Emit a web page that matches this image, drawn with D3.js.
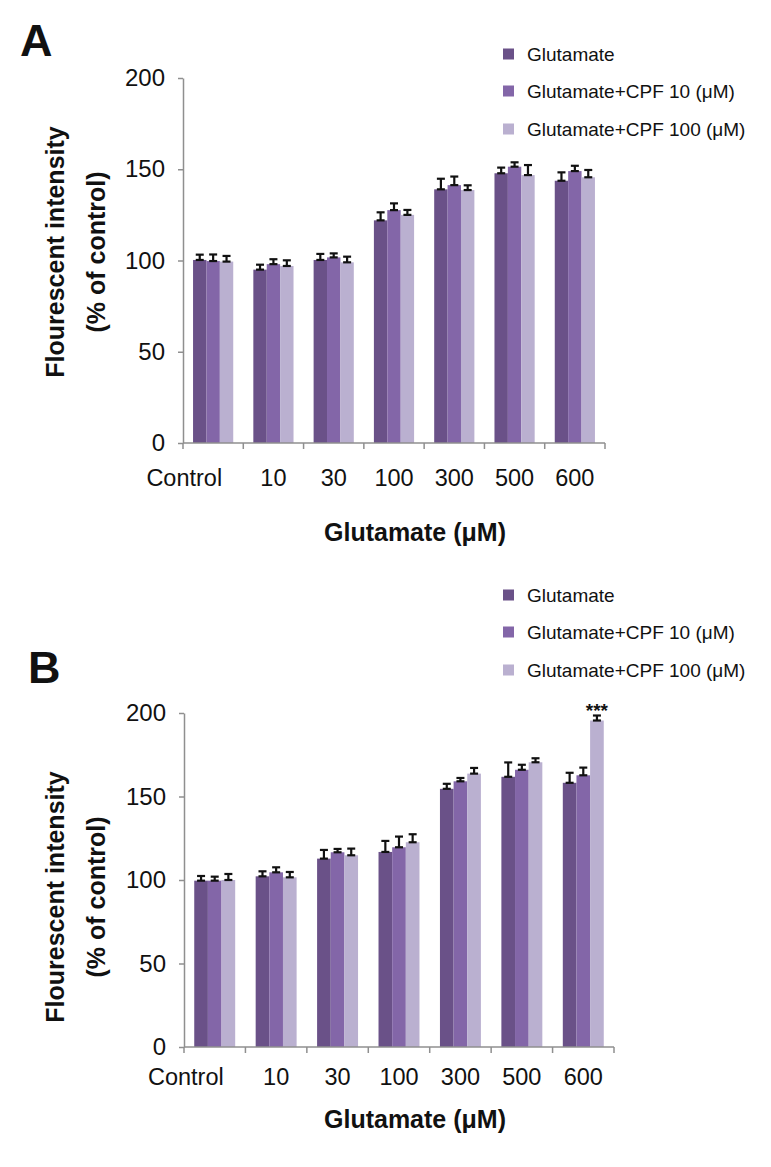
<!DOCTYPE html>
<html>
<head>
<meta charset="utf-8">
<script src="https://cdn.jsdelivr.net/npm/d3@7"></script>
<style>
  html, body { margin: 0; padding: 0; background: #fff; }
  svg { display: block; font-family: Arial, "Liberation Sans", Helvetica, sans-serif; }
</style>
</head>
<body>
<svg id="chart" width="771" height="1167"></svg>
<script>
// ---------- DATA ----------
const categories = ["Control", "10", "30", "100", "300", "500", "600"];
const seriesNames = ["Glutamate", "Glutamate+CPF 10 (μM)", "Glutamate+CPF 100 (μM)"];
const yTickValues = [0, 50, 100, 150, 200];

// Panel A: means and error-bar lengths (% of control)
const aGlutamate    = [100.3, 95.0, 100.3, 122.0, 139.0, 147.8, 143.7];
const aCpf10        = [99.7, 98.0, 101.7, 127.6, 141.3, 151.4, 149.0];
const aCpf100       = [99.4, 97.0, 99.0, 125.0, 138.6, 146.8, 145.6];
const aGlutamateErr = [2.9, 2.7, 3.3, 4.4, 5.8, 3.1, 4.6];
const aCpf10Err     = [3.6, 2.7, 2.2, 3.7, 4.7, 2.4, 2.9];
const aCpf100Err    = [3.1, 3.1, 3.1, 2.7, 2.6, 5.5, 4.0];

// Panel B
const bGlutamate    = [99.6, 102.2, 112.8, 116.8, 154.6, 161.8, 158.2];
const bCpf10        = [99.6, 104.6, 116.6, 119.6, 159.1, 166.0, 162.7];
const bCpf100       = [100.0, 101.6, 114.8, 122.6, 163.7, 170.5, 195.5];
const bGlutamateErr = [2.8, 3.0, 5.2, 6.6, 3.0, 8.6, 6.0];
const bCpf10Err     = [2.4, 3.0, 2.0, 6.4, 2.0, 3.0, 4.6];
const bCpf100Err    = [3.6, 3.2, 4.0, 4.8, 3.4, 2.4, 3.0];

const significance = [{ category: "600", series: 2, label: "***" }];

// ---------- STYLE ----------
const colors = ["#6a5188", "#8366a8", "#bab0d0"];
const axisColor = "#8f8f8f";

const svg = d3.select("#chart");

function drawPanel(opts) {
  const { letter, letterX, letterY, x0, x1, yTop, yBottom, values, errors,
          legendX, legendRows, xLabelY, xTitleY, yTitleCenter, marks } = opts;

  const g = svg.append("g");

  const x = d3.scaleBand().domain(categories).range([x0, x1]).padding(0);
  const xs = d3.scaleBand().domain(d3.range(seriesNames.length))
    .range([0, x.bandwidth()]).paddingInner(0).paddingOuter(0.75);
  const y = d3.scaleLinear().domain([0, 200]).range([yBottom, yTop]);

  // panel letter
  g.append("text").attr("x", letterX).attr("y", letterY)
    .attr("font-size", 45).attr("font-weight", "bold").attr("fill", "#111")
    .text(letter);

  // bars
  const rows = [];
  categories.forEach((c, i) => {
    values.forEach((arr, s) => rows.push({ c, s, v: arr[i], e: errors[s][i] }));
  });

  g.append("g").selectAll("rect").data(rows).join("rect")
    .attr("x", d => x(d.c) + xs(d.s))
    .attr("width", xs.bandwidth())
    .attr("y", d => y(d.v))
    .attr("height", d => y(0) - y(d.v))
    .attr("fill", d => colors[d.s]);

  // error bars (drawn upward from bar top)
  const eb = g.append("g").attr("stroke", "#111").attr("stroke-width", 2.2);
  rows.forEach(d => {
    const cx = x(d.c) + xs(d.s) + xs.bandwidth() / 2;
    const yt = y(d.v + d.e), yb = y(d.v);
    eb.append("line").attr("x1", cx).attr("x2", cx).attr("y1", yt).attr("y2", yb);
    eb.append("line").attr("x1", cx - 4).attr("x2", cx + 4).attr("y1", yt).attr("y2", yt);
    eb.append("line").attr("x1", cx - 4).attr("x2", cx + 4).attr("y1", yb).attr("y2", yb);
  });

  // significance marks
  (marks || []).forEach(m => {
    const i = categories.indexOf(m.category);
    const cx = x(m.category) + xs(m.series) + xs.bandwidth() / 2;
    const top = y(values[m.series][i] + errors[m.series][i]);
    g.append("text").attr("x", cx).attr("y", top + 1)
      .attr("text-anchor", "middle").attr("font-size", 19).attr("font-weight", "bold").attr("fill", "#111")
      .text(m.label);
  });

  // y axis
  const yAxis = d3.axisLeft(y).tickValues(yTickValues).tickSize(5).tickSizeOuter(0).tickPadding(13);
  const ya = g.append("g").attr("transform", `translate(${x0},0)`).call(yAxis);
  ya.select(".domain").attr("stroke", axisColor).attr("stroke-width", 1.5);
  ya.selectAll(".tick line").attr("stroke", axisColor).attr("stroke-width", 1.5);
  ya.selectAll(".tick text").attr("font-size", 24).attr("fill", "#111")
    .attr("font-family", "Arial, 'Liberation Sans', sans-serif");

  // x axis line and boundary ticks
  const xa = g.append("g").attr("stroke", axisColor).attr("stroke-width", 1.5);
  xa.append("line").attr("x1", x0).attr("x2", x1).attr("y1", y(0)).attr("y2", y(0));
  const bounds = categories.map(c => x(c)).concat([x1]);
  bounds.forEach(bx => {
    xa.append("line").attr("x1", bx).attr("x2", bx).attr("y1", y(0)).attr("y2", y(0) + 6);
  });

  // category labels
  g.append("g").selectAll("text").data(categories).join("text")
    .attr("x", (c, i) => i === 0 ? x(c) + x.bandwidth() / 2 + 9 : x(c) + x.bandwidth() / 2)
    .attr("y", xLabelY)
    .attr("text-anchor", (c, i) => i === 0 ? "end" : "middle")
    .attr("font-size", 23.5).attr("fill", "#111")
    .text(c => c);

  // x title
  g.append("text").attr("x", 415).attr("y", xTitleY).attr("text-anchor", "middle")
    .attr("font-size", 25).attr("font-weight", "bold").attr("fill", "#111")
    .text("Glutamate (μM)");

  // y title (two lines)
  const yt = g.append("text")
    .attr("transform", `translate(0,${yTitleCenter}) rotate(-90)`)
    .attr("text-anchor", "middle").attr("font-size", 25).attr("font-weight", "bold").attr("fill", "#111");
  yt.append("tspan").attr("x", 0).attr("y", 55).attr("dy", "0.35em").text("Flourescent intensity");
  yt.append("tspan").attr("x", 0).attr("y", 96).attr("dy", "0.35em").text("(% of control)");

  // legend
  const lg = g.append("g");
  seriesNames.forEach((name, s) => {
    lg.append("rect").attr("x", legendX).attr("y", legendRows[s] - 5.5)
      .attr("width", 11).attr("height", 11).attr("fill", colors[s]);
    lg.append("text").attr("x", legendX + 24).attr("y", legendRows[s]).attr("dy", "0.35em")
      .attr("font-size", 19).attr("fill", "#111").text(name);
  });
}

drawPanel({
  letter: "A", letterX: 20, letterY: 56,
  x0: 183, x1: 605, yTop: 78, yBottom: 443,
  values: [aGlutamate, aCpf10, aCpf100],
  errors: [aGlutamateErr, aCpf10Err, aCpf100Err],
  legendX: 503, legendRows: [54, 91, 129],
  xLabelY: 486, xTitleY: 541, yTitleCenter: 252
});

drawPanel({
  letter: "B", letterX: 28, letterY: 683,
  x0: 184, x1: 614, yTop: 713, yBottom: 1047,
  values: [bGlutamate, bCpf10, bCpf100],
  errors: [bGlutamateErr, bCpf10Err, bCpf100Err],
  legendX: 503, legendRows: [595, 632, 670],
  xLabelY: 1085, xTitleY: 1128, yTitleCenter: 897,
  marks: significance
});
</script>
</body>
</html>
